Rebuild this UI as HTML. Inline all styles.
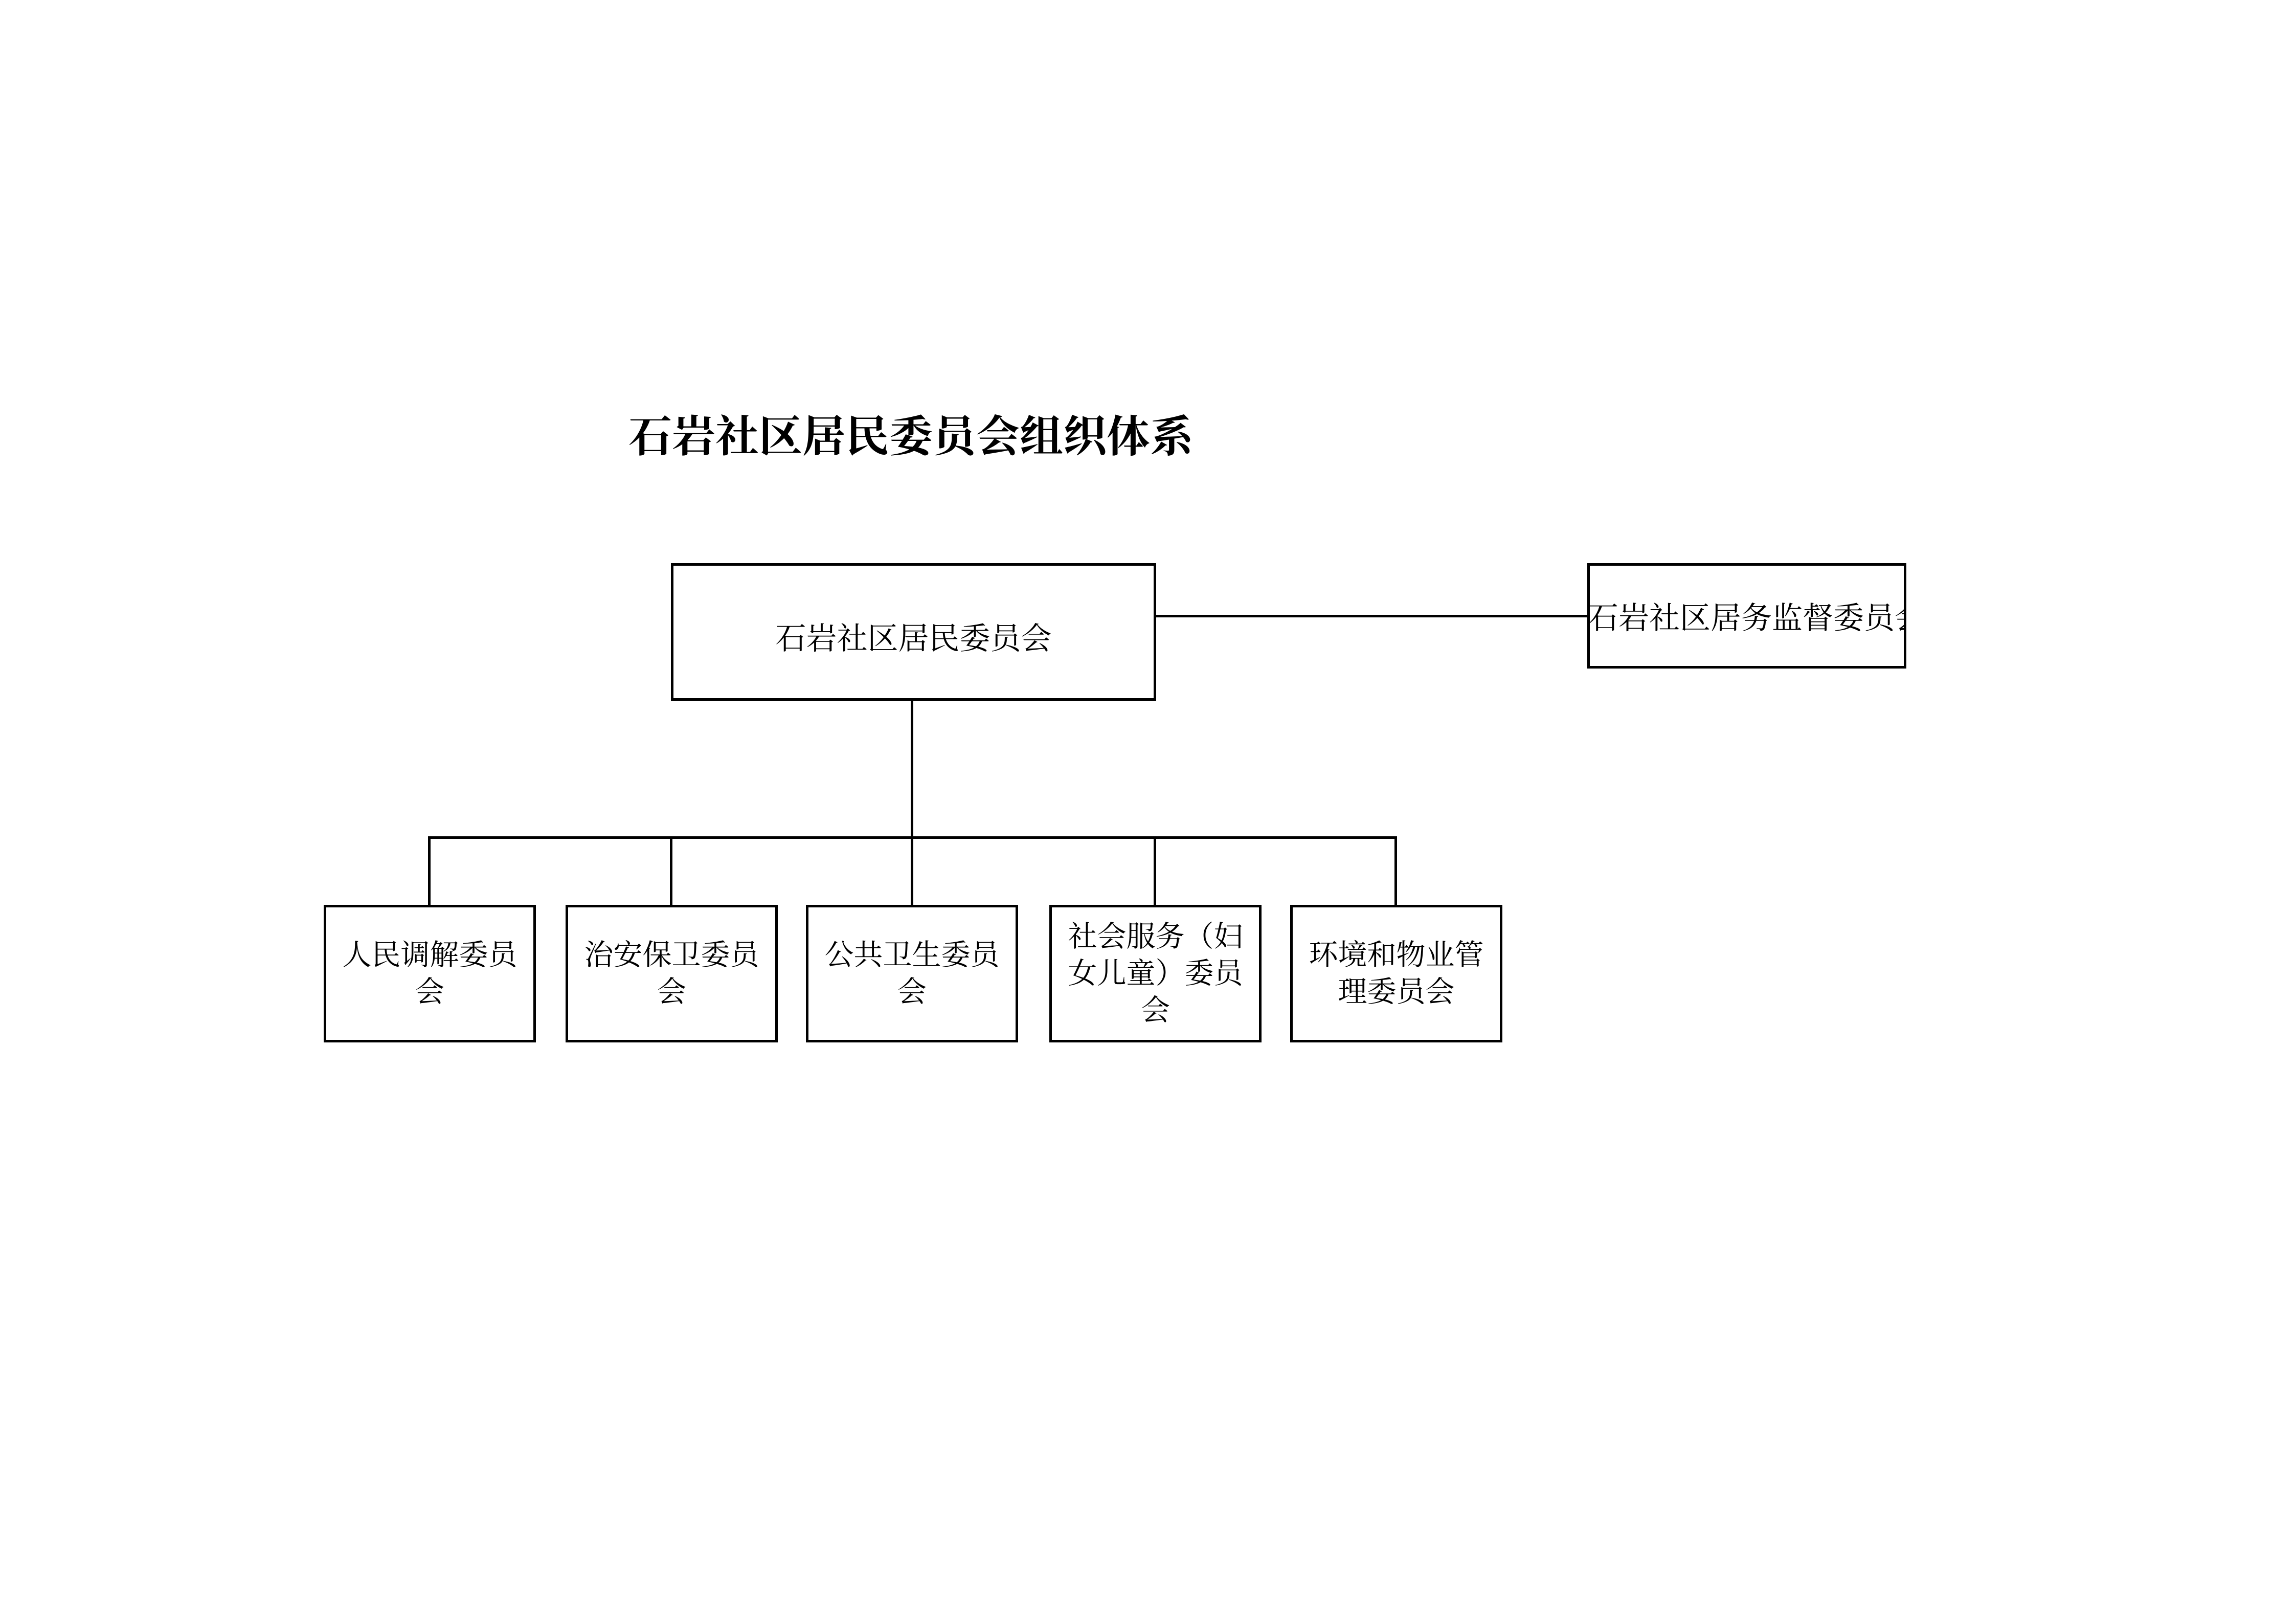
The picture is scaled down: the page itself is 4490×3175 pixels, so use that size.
<!DOCTYPE html>
<html><head><meta charset="utf-8"><style>
html,body{margin:0;padding:0;background:#fff;}
body{width:4490px;height:3175px;position:relative;overflow:hidden;font-family:"Liberation Serif","Noto Serif CJK SC",serif;color:#000;}
.b{position:absolute;border:5px solid #000;box-sizing:border-box;display:flex;align-items:center;justify-content:center;text-align:center;background:#fff;overflow:hidden;}
.l{position:absolute;background:#000;}
.t{position:absolute;white-space:nowrap;}
.c{font-size:57px;line-height:72px;padding:0 6px;}
#w{position:absolute;left:-4px;top:-3px;width:4490px;height:3175px;}
</style></head><body><div id="w">
<div class="t" style="left:1233px;top:808px;font-size:85px;line-height:100px;font-weight:bold;">石岩社区居民委员会组织体系</div>

<div class="l" style="left:2263px;top:1205px;width:850px;height:5px;"></div>
<div class="l" style="left:1785px;top:1371px;width:5px;height:272px;"></div>
<div class="l" style="left:841px;top:1638px;width:1895px;height:5px;"></div>
<div class="l" style="left:841px;top:1638px;width:5px;height:136px;"></div>
<div class="l" style="left:1314px;top:1638px;width:5px;height:136px;"></div>
<div class="l" style="left:1785px;top:1638px;width:5px;height:136px;"></div>
<div class="l" style="left:2260px;top:1638px;width:5px;height:136px;"></div>
<div class="l" style="left:2731px;top:1638px;width:5px;height:136px;"></div>

<div class="b" style="left:1316px;top:1104px;width:949px;height:269px;font-size:60px;padding-top:16px;">石岩社区居民委员会</div>
<div class="b" style="left:3108px;top:1104px;width:624px;height:206px;font-size:60px;white-space:nowrap;justify-content:flex-start;padding-left:0;"><span style="margin-left:-4px;">石岩社区居务监督委员会</span></div>

<div class="b c" style="left:637px;top:1772px;width:415px;height:269px;">人民调解委员<br>会</div>
<div class="b c" style="left:1110px;top:1772px;width:415px;height:269px;">治安保卫委员<br>会</div>
<div class="b c" style="left:1580px;top:1772px;width:415px;height:269px;">公共卫生委员<br>会</div>
<div class="b c" style="left:2056px;top:1772px;width:415px;height:269px;">社会服务（妇<br>女儿童）委员<br>会</div>
<div class="b c" style="left:2527px;top:1772px;width:415px;height:269px;">环境和物业管<br>理委员会</div>
</div></body></html>
